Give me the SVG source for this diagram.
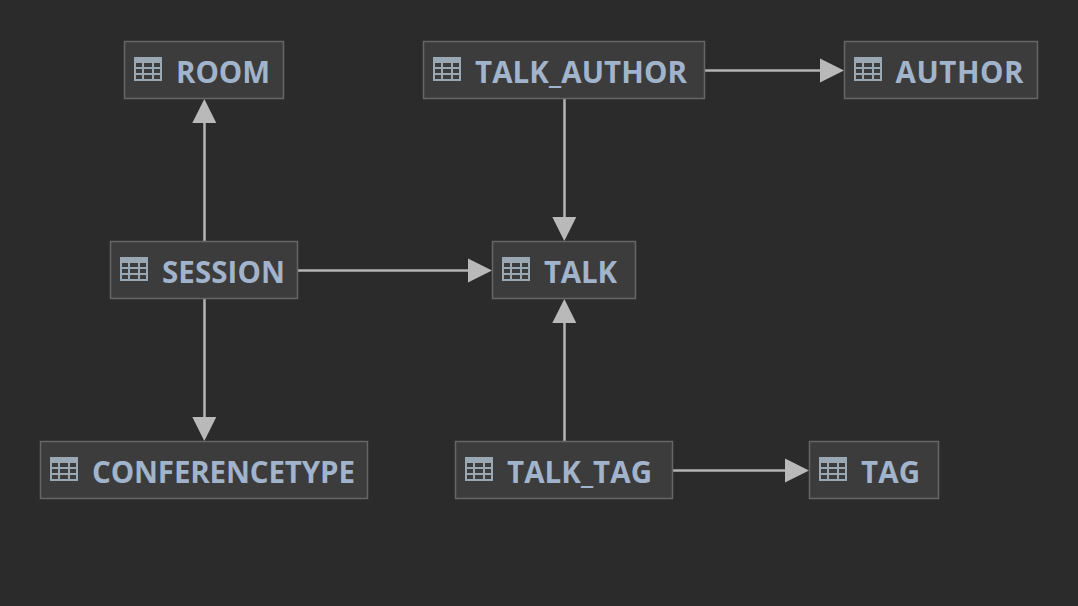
<svg xmlns="http://www.w3.org/2000/svg" width="1078" height="606" viewBox="0 0 1078 606">
<style>
.box{fill:#3c3c3c;stroke:#666;stroke-width:1.5}
.lbl{font-family:"Open Sans","Noto Sans","Liberation Sans",sans-serif;font-weight:700;font-size:29.500px;fill:#a2b4cc}
.edge{fill:none;stroke:#b4b4b4;stroke-width:2.500}
.head{fill:#b9b9b9}
.ic{fill:#9aa8b4}
.hole{fill:#3c3c3c}
</style>
<defs>
<g id="icon">
<rect class="ic" width="28" height="24"/>
<path class="hole" d="M2 6h6v4H2zM10 6h8v4h-8zM20 6h6v4h-6zM2 12h6v4H2zM10 12h8v4h-8zM20 12h6v4h-6zM2 18h6v4H2zM10 18h8v4h-8zM20 18h6v4h-6z"/>
</g>
</defs>
<rect width="1078" height="606" fill="#2b2b2b"/>
<g id="connectors">
<path class="edge" d="M204.500 241V122"/><path class="head" d="M204.300 99L216.300 123H192.300Z"/>
<path class="edge" d="M204.500 299V418"/><path class="head" d="M204.300 441L216.300 417H192.300Z"/>
<path class="edge" d="M298 270.500H469"/><path class="head" d="M492 270.500L468 258.500V282.500Z"/>
<path class="edge" d="M705 70.500H821"/><path class="head" d="M844 70.500L820 58.500V82.500Z"/>
<path class="edge" d="M564.500 99V218"/><path class="head" d="M564.300 241L576.300 217H552.300Z"/>
<path class="edge" d="M564.500 441V322"/><path class="head" d="M564.300 299L576.300 323H552.300Z"/>
<path class="edge" d="M673 470.500H786"/><path class="head" d="M809 470.500L785 458.500V482.500Z"/>
</g>
<g id="room"><rect class="box" x="124.500" y="41.500" width="159" height="57"/><use href="#icon" x="134" y="57"/><text class="lbl" x="176" y="83" textLength="94">ROOM</text></g>
<g id="talk_author"><rect class="box" x="423.500" y="41.500" width="281" height="57"/><use href="#icon" x="433" y="57"/><text class="lbl" x="475" y="83" textLength="212">TALK_AUTHOR</text></g>
<g id="author"><rect class="box" x="844.500" y="41.500" width="193" height="57"/><use href="#icon" x="854" y="57"/><text class="lbl" x="895.500" y="83" textLength="128">AUTHOR</text></g>
<g id="session"><rect class="box" x="110.500" y="241.500" width="187" height="57"/><use href="#icon" x="120" y="257"/><text class="lbl" x="162" y="283" textLength="123">SESSION</text></g>
<g id="talk"><rect class="box" x="492.500" y="241.500" width="143" height="57"/><use href="#icon" x="502" y="257"/><text class="lbl" x="544" y="283" textLength="73">TALK</text></g>
<g id="conferencetype"><rect class="box" x="40.500" y="441.500" width="327" height="57"/><use href="#icon" x="50" y="457"/><text class="lbl" x="92" y="483" textLength="263">CONFERENCETYPE</text></g>
<g id="talk_tag"><rect class="box" x="455.500" y="441.500" width="217" height="57"/><use href="#icon" x="465" y="457"/><text class="lbl" x="507" y="483" textLength="145">TALK_TAG</text></g>
<g id="tag"><rect class="box" x="809.500" y="441.500" width="129" height="57"/><use href="#icon" x="819" y="457"/><text class="lbl" x="861" y="483" textLength="59">TAG</text></g>
</svg>
